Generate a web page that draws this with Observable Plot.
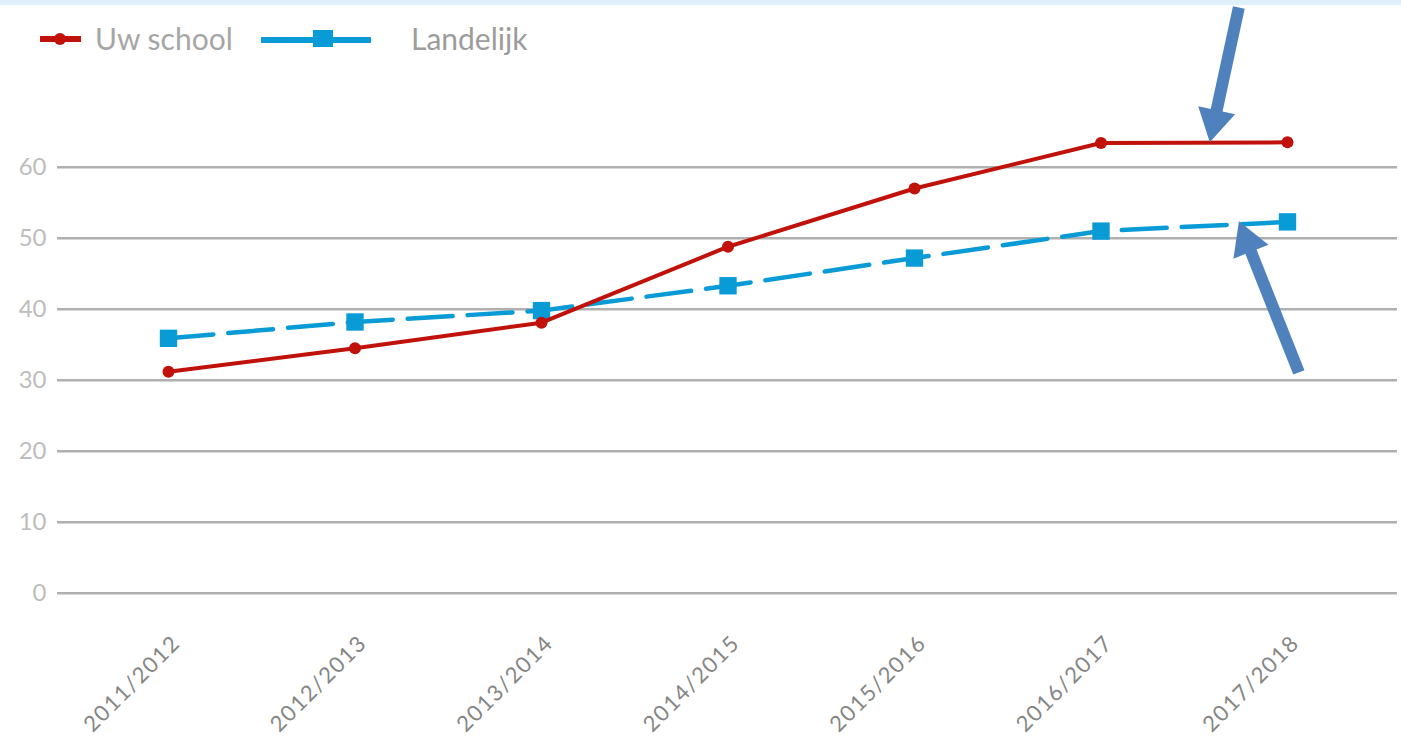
<!DOCTYPE html>
<html>
<head>
<meta charset="utf-8">
<script src="https://cdn.jsdelivr.net/npm/d3@7"></script>
<script src="https://cdn.jsdelivr.net/npm/@observablehq/plot@0.6"></script>
<style>
  html, body { margin: 0; padding: 0; background: #ffffff; }
  #wrap { position: relative; width: 1401px; height: 737px; overflow: hidden; font-family: Lato, "Open Sans", sans-serif; }
  #strip { position: absolute; left: 0; top: 0; width: 1401px; height: 5px; background: #def1fa; }
  #legend { position: relative; width: 1401px; height: 80px; }
  #legend .sw { position: absolute; }
  #legend .lbl { position: absolute; font-size: 30px; line-height: 30px; white-space: nowrap; }
  #chart svg { overflow: visible; }
  g[aria-label="arrow annotation"] { filter: drop-shadow(2px 3px 2px rgba(0,0,0,0.30)); }
</style>
</head>
<body>
<div id="wrap">
  <div id="legend">
    <div id="strip"></div>
    <div class="sw" style="left:40px;top:36px;width:41px;height:6px;background:#c0110a"></div>
    <div class="sw" style="left:54px;top:33px;width:12px;height:12px;border-radius:6px;background:#c0110a"></div>
    <span class="lbl" style="left:95px;top:23px;color:#a6a6a6">Uw school</span>
    <div class="sw" style="left:261px;top:36.5px;width:110px;height:6px;background:#099bd5"></div>
    <div class="sw" style="left:313px;top:29.5px;width:20px;height:17px;background:#099bd5"></div>
    <span class="lbl" style="left:411px;top:23px;color:#9c9c9c">Landelijk</span>
  </div>
  <div id="chart"></div>
</div>
<script>
// ---- data ----
const seasons = ["2011/2012", "2012/2013", "2013/2014", "2014/2015", "2015/2016", "2016/2017", "2017/2018"];
const uwSchool = [31.2, 34.5, 38.1, 48.8, 57.0, 63.4, 63.5];
const landelijk = [35.9, 38.2, 39.8, 43.3, 47.2, 51.0, 52.3];
const yTicks = [0, 10, 20, 30, 40, 50, 60];
// annotation arrows (tail -> tip), in data units (season index, value)
const arrowTailX = [5.739, 6.061];
const arrowTailY = [82.5, 31.1];
const arrowTipX = [5.583, 5.739];
const arrowTipY = [63.5, 52.4];

const rows = seasons.map((s, i) => ({ i, season: s, school: uwSchool[i], land: landelijk[i] }));

const xOpts = { type: "linear", domain: [0, seasons.length - 1], range: [168, 1287] };
const yOpts = { type: "linear", domain: [0, 60], range: [512.7, 86.7] };

const xs = Plot.scale({ x: xOpts });
const ys = Plot.scale({ y: yOpts });

const arrowRows = arrowTailX.map((_, k) => {
  const p1 = [xs.apply(arrowTailX[k]), ys.apply(arrowTailY[k])];
  const p2 = [xs.apply(arrowTipX[k]), ys.apply(arrowTipY[k])];
  const dx = p2[0] - p1[0], dy = p2[1] - p1[1];
  const L = Math.hypot(dx, dy);
  const ux = dx / L, uy = dy / L;
  const hc = [p2[0] - 22 * ux, p2[1] - 22 * uy];
  const se = [p2[0] - 24 * ux, p2[1] - 24 * uy];
  return {
    x1: arrowTailX[k], y1: arrowTailY[k],
    sx: xs.invert(se[0]), sy: ys.invert(se[1]),
    hx: xs.invert(hc[0]), hy: ys.invert(hc[1]),
    rot: Math.atan2(ux, -uy) * 180 / Math.PI
  };
});

const red = "#c0110a";
const blue = "#099bd5";
const arrowBlue = "#4f81bd";

const chart = Plot.plot({
  width: 1401,
  height: 657,
  marginLeft: 57,
  marginRight: 4,
  marginTop: 0,
  marginBottom: 144,
  style: { fontFamily: "Lato, 'Open Sans', sans-serif", background: "transparent", overflow: "visible" },
  x: { ...xOpts, axis: null },
  y: { ...yOpts, axis: null },
  marks: [
    Plot.ruleY(yTicks, { stroke: "#b0b0b0", strokeWidth: 2.6 }),
    Plot.axisY(yTicks, { tickSize: 0, tickPadding: 11, label: null, fontSize: 24, color: "#bdbdbd", tickFormat: d => String(d) }),
    Plot.axisX(d3.range(seasons.length), { tickSize: 0, tickPadding: 46, tickRotate: -45, label: null, fontSize: 22, color: "#858585", tickFormat: i => seasons[i], dx: 8 }),
    Plot.line(rows, { x: "i", y: "land", stroke: blue, strokeWidth: 4.5, strokeDasharray: "45,15" }),
    Plot.dot(rows, { x: "i", y: "land", symbol: "square", r: 9.8, fill: blue }),
    Plot.line(rows, { x: "i", y: "school", stroke: red, strokeWidth: 4 }),
    Plot.dot(rows, { x: "i", y: "school", r: 6, fill: red }),
    Plot.link(arrowRows, { x1: "x1", y1: "y1", x2: "sx", y2: "sy", stroke: arrowBlue, strokeWidth: 12, ariaLabel: "arrow annotation" }),
    Plot.dot(arrowRows, { x: "hx", y: "hy", symbol: "triangle", r: 14, rotate: "rot", fill: arrowBlue, ariaLabel: "arrow annotation" })
  ]
});
chart.querySelectorAll('g[aria-label="x-axis tick label"] text').forEach(t => t.setAttribute("letter-spacing", "1.5"));
document.getElementById("chart").appendChild(chart);
</script>
</body>
</html>
